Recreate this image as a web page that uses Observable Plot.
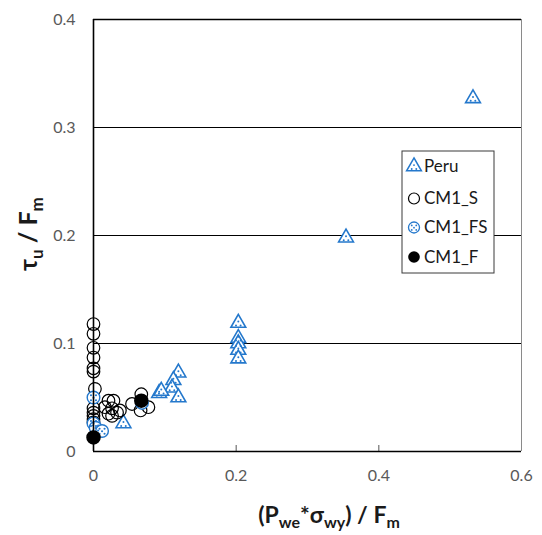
<!DOCTYPE html>
<html>
<head>
<meta charset="utf-8">
<script src="https://cdn.jsdelivr.net/npm/d3@7"></script>
<script src="https://cdn.jsdelivr.net/npm/@observablehq/plot@0.6"></script>
<style>
  html, body { margin: 0; padding: 0; background: white; }
  #chart svg { display: block; }
</style>
</head>
<body>
<div id="chart"></div>
<script>
// ---- data ----
const peruX = [0.532, 0.354, 0.203, 0.203, 0.203, 0.203, 0.203, 0.119, 0.112, 0.110, 0.119, 0.092, 0.095, 0.042];
const peruY = [0.327, 0.198, 0.119, 0.105, 0.100, 0.094, 0.086, 0.073, 0.066, 0.059, 0.050, 0.054, 0.056, 0.026];

const cm1sX = [0, 0, 0, 0, 0, 0, 0.002, 0, 0, 0, 0, 0, 0.021, 0.028, 0.016, 0.026, 0.033, 0.021, 0.026, 0.037, 0.067, 0.054, 0.077, 0.066];
const cm1sY = [0.118, 0.109, 0.096, 0.087, 0.077, 0.074, 0.058, 0.040, 0.036, 0.033, 0.030, 0.027, 0.047, 0.047, 0.041, 0.040, 0.036, 0.035, 0.033, 0.038, 0.053, 0.044, 0.041, 0.038];

const cm1fsX = [0, 0, 0.003, 0.012, 0.068];
const cm1fsY = [0.050, 0.026, 0.022, 0.019, 0.045];

const cm1fX = [0, 0.067];
const cm1fY = [0.013, 0.047];

const xTicks = [0, 0.2, 0.4, 0.6];
const xTickLabels = ["0", "0.2", "0.4", "0.6"];
const yTicks = [0, 0.1, 0.2, 0.3, 0.4];
const yTickLabels = ["0", "0.1", "0.2", "0.3", "0.4"];
const xInnerTicks = [0.2, 0.4];
const gridY = [0.1, 0.2, 0.3];

const seriesNames = ["Peru", "CM1_S", "CM1_FS", "CM1_F"];

// ---- build rows ----
const toRows = (xs, ys) => xs.map((x, i) => ({x, y: ys[i]}));
const peru = toRows(peruX, peruY);
const cm1s = toRows(cm1sX, cm1sY);
const cm1fs = toRows(cm1fsX, cm1fsY);
const cm1f = toRows(cm1fX, cm1fY);

const BLUE = "#2478CC";
const TRI_R = 5.5;
const triDots = [[0, -1.4], [-2.3, 2.5], [2.3, 2.5]];
const circDots = [[-2.5, -2.3], [2.5, -2.3], [0, 0.2], [-2.5, 2.7], [2.5, 2.7]];

const chart = Plot.plot({
  width: 542,
  height: 535,
  marginLeft: 93,
  marginRight: 21,
  marginTop: 19,
  marginBottom: 84,
  x: {domain: [0, 0.6]},
  y: {domain: [0, 0.4]},
  style: {fontFamily: "Lato, 'Open Sans', sans-serif", fontSize: "16px", color: "#595959", background: "white"},
  marks: [
    Plot.ruleY(gridY, {stroke: "black", strokeWidth: 1}),
    Plot.ruleY([0.4], {stroke: "black", strokeWidth: 1.6}),
    Plot.ruleX([0.6], {stroke: "#8a8a8a", strokeWidth: 1}),
    Plot.ruleX(xInnerTicks, {stroke: "#555", strokeWidth: 1, insetTop: 426}),
    Plot.axisY({ticks: yTicks, tickSize: 0, tickPadding: 18, tickFormat: (d, i) => yTickLabels[i], fill: "#595959", label: null}),
    Plot.axisX({ticks: xTicks, tickSize: 0, tickPadding: 18, tickFormat: (d, i) => xTickLabels[i], fill: "#595959", label: null}),
    // Peru
    Plot.dot(peru, {x: "x", y: "y", symbol: "triangle", r: TRI_R, stroke: BLUE, strokeWidth: 1.6, fill: "white"}),
    ...triDots.map(([dx, dy]) => Plot.dot(peru, {x: "x", y: "y", r: 1, fill: BLUE, dx, dy})),
    // CM1_S
    Plot.dot(cm1s, {x: "x", y: "y", r: 6.3, stroke: "black", strokeWidth: 1.2, fill: "none"}),
    // CM1_FS
    Plot.dot(cm1fs, {x: "x", y: "y", r: 6.3, stroke: BLUE, strokeWidth: 1.4, fill: "white"}),
    ...circDots.map(([dx, dy]) => Plot.dot(cm1fs, {x: "x", y: "y", r: 1.05, fill: BLUE, dx, dy})),
    // CM1_F
    Plot.dot(cm1f, {x: "x", y: "y", r: 6.5, fill: "black", stroke: "black"}),
    // axes lines
    Plot.ruleX([0], {stroke: "black", strokeWidth: 1.6}),
    Plot.ruleY([0], {stroke: "black", strokeWidth: 1.6})
  ]
});

document.getElementById("chart").appendChild(chart);

// ---- titles and legend ----
const svg = d3.select(chart);
const font = "Lato, 'Open Sans', sans-serif";

// x title
const xt = svg.append("text")
  .attr("x", 329).attr("y", 523)
  .attr("text-anchor", "middle")
  .attr("font-family", font).attr("font-size", 23).attr("font-weight", "bold")
  .attr("fill", "#1a1a1a");
xt.append("tspan").text("(P");
xt.append("tspan").attr("dy", 5).attr("font-size", 16).text("we");
xt.append("tspan").attr("dy", -5).text("*σ");
xt.append("tspan").attr("dy", 5).attr("font-size", 16).text("wy");
xt.append("tspan").attr("dy", -5).text(") / F");
xt.append("tspan").attr("dy", 5).attr("font-size", 16).text("m");

// y title
const yt = svg.append("text")
  .attr("transform", "translate(37,234) rotate(-90)")
  .attr("text-anchor", "middle")
  .attr("font-family", font).attr("font-size", 25).attr("font-weight", "bold")
  .attr("fill", "#1a1a1a");
yt.append("tspan").text("τ");
yt.append("tspan").attr("dy", 6).attr("font-size", 17).text("u");
yt.append("tspan").attr("dy", -6).text(" / F");
yt.append("tspan").attr("dy", 6).attr("font-size", 17).text("m");

// legend
const lg = svg.append("g").attr("text-anchor", "start");
lg.append("rect").attr("x", 402).attr("y", 151).attr("width", 92).attr("height", 122)
  .attr("fill", "white").attr("stroke", "#3a3a3a").attr("stroke-width", 1);
const rowY = [166.5, 198.5, 227.5, 257];
const sx = 414;
seriesNames.forEach((name, i) => {
  const cy = rowY[i];
  if (i === 0) {
    lg.append("path").attr("transform", `translate(${sx},${cy})`)
      .attr("d", d3.symbol(d3.symbolTriangle, TRI_R * TRI_R * Math.PI)())
      .attr("fill", "white").attr("stroke", BLUE).attr("stroke-width", 1.5);
    triDots.forEach(([dx, dy]) => lg.append("circle").attr("cx", sx + dx).attr("cy", cy + dy).attr("r", 0.95).attr("fill", BLUE));
  } else if (i === 1) {
    lg.append("circle").attr("cx", sx).attr("cy", cy).attr("r", 5.5).attr("fill", "white").attr("stroke", "black").attr("stroke-width", 1.2);
  } else if (i === 2) {
    lg.append("circle").attr("cx", sx).attr("cy", cy).attr("r", 5.5).attr("fill", "white").attr("stroke", BLUE).attr("stroke-width", 1.3);
    circDots.forEach(([dx, dy]) => lg.append("circle").attr("cx", sx + dx * 0.9).attr("cy", cy + dy * 0.9).attr("r", 0.9).attr("fill", BLUE));
  } else {
    lg.append("circle").attr("cx", sx).attr("cy", cy).attr("r", 5.8).attr("fill", "black");
  }
  lg.append("text").attr("x", 424).attr("y", cy).attr("dy", "0.35em").attr("text-anchor", "start")
    .attr("font-family", font).attr("font-size", 17).attr("fill", "#1a1a1a").text(name);
});
</script>
</body>
</html>
